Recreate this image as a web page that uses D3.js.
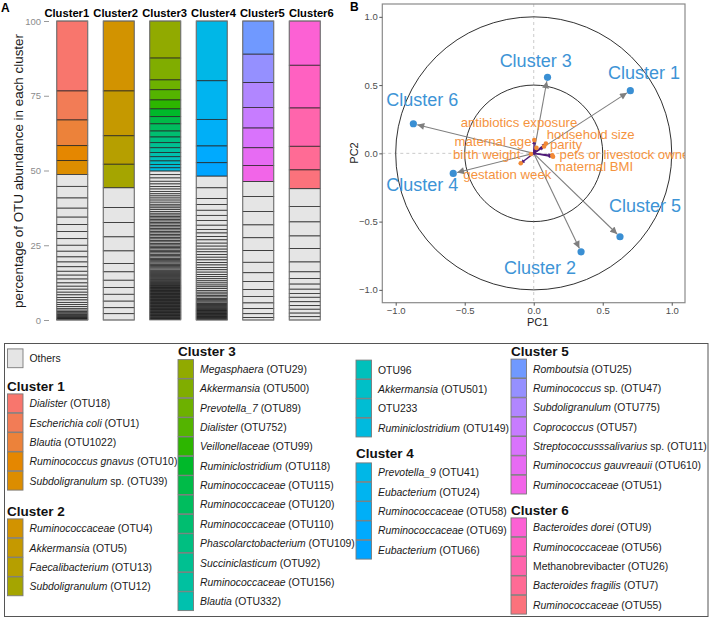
<!DOCTYPE html>
<html><head><meta charset="utf-8">
<script src="https://cdn.jsdelivr.net/npm/d3@7"></script>
<style>body{margin:0;background:#fff}svg{font-family:"Liberation Sans",Arial,Helvetica,sans-serif}</style>
</head><body><svg id="c" width="712" height="620"></svg>
<script>
// ---------------- DATA ----------------
const clusters = ["Cluster1","Cluster2","Cluster3","Cluster4","Cluster5","Cluster6"];
const yTicksA = [0,25,50,75,100];
// coloured OTU shares (top to bottom)
const c1 = [23.4,9.7,8.6,5.0,4.6];
const c2 = [23.4,15.0,9.5,7.9];
const c3 = [12.4,7.3,3.3,3.4,3.0,2.6,2.4,2.4,2.0,1.9,1.7,1.6,1.4,1.4,1.2,1.1,1.1];
const c4 = [20.0,12.9,8.9,5.6,4.5];
const c5 = [11.1,9.5,8.3,6.9,6.6,5.9,5.4];
const c6 = [14.8,14.3,12.8,7.9,6.3];
// "Others" OTU shares (top to bottom)
const o1 = [4.0,3.9,3.4,3.0,2.5,2.3,2.4,2.2,2.0,1.9,1.7,1.6,1.5,1.3,1.3,1.3,1.1,1.0,1.0,0.9,0.9,0.8,0.8,0.7,0.7,0.6,0.6,0.5,0.4,0.4,0.3,0.3,0.3,0.2,0.2,0.2,0.2,0.1,0.1,0.1];
const o2 = [6.6,5.0,4.8,4.7,4.2,2.8,2.8,2.4,2.3,2.3,2.2,2.0,2.1];
const o3 = [1.2,1.1,1.1,0.9,0.9,0.8,0.8,0.8,0.7,0.7,0.7,0.7,0.7,0.6,0.6,0.6,0.6,0.6,0.6,
  0.5,0.5,0.5,0.5,0.5,0.5,0.5,0.5,0.5,0.5,0.5,0.5,0.5,0.5,0.5,0.5,0.5,0.5,0.5,0.5,
  0.45,0.45,0.45,0.45,0.45,0.45,0.45,0.45,0.45,0.45,
  0.4,0.4,0.4,0.4,0.4,0.4,0.4,0.4,0.4,0.4,
  0.35,0.35,0.35,0.35,0.35,0.35,0.35,0.35,
  0.3,0.3,0.3,0.3,0.3,0.3,0.3,
  0.2,0.2,0.2,0.2,0.2,0.2,0.2,0.2,0.2,0.2,0.2,0.2,0.2,0.2,0.2,0.2,0.2,0.2,0.2,0.2,
  0.2,0.2,0.2,0.2,0.2,0.2,0.2,0.2,0.2,0.2,0.2,0.2,0.2,0.2,0.2,0.2,0.2,0.2,0.2,0.2,
  0.2,0.2,0.2,0.2,0.2,0.2,0.2,0.2,0.2,0.2,0.2,0.2,0.2,0.2,0.2,0.2,0.2,0.2];
const o4 = [3.9,3.6,2.0,1.9,1.7,1.7,1.6,1.4,1.2,1.2,1.1,1.1,1.0,1.0,0.9,0.9,0.9,0.9,0.9,0.8,0.8,0.8,0.8,0.8,0.7,0.7,0.7,0.7,0.7,0.6,0.6,0.6,0.6,0.6,
  0.5,0.5,0.5,0.4,0.4,0.4,0.4,0.3,0.3,0.3,0.3,0.3,0.3,
  0.2,0.2,0.2,0.2,0.2,0.2,0.2,0.2,0.2,0.2,0.2,0.2,0.2,0.2,0.2,0.2,0.2,0.2,0.2];
const o5 = [5.0,5.0,4.5,4.3,4.3,3.9,3.5,2.9,2.7,2.3,2.2,1.9,1.7,1.3,0.8];
const o6 = [5.9,5.2,4.7,4.2,4.5,3.3,2.2,1.9,1.7,1.4,1.3,1.5,1.3,1.2,1.3,1.2,1.1];
const colored = [c1,c2,c3,c4,c5,c6];
const others = [o1,o2,o3,o4,o5,o6];

// legend labels (*...* = italic)
const leg1 = ["*Dialister* (OTU18)","*Escherichia coli* (OTU1)","*Blautia* (OTU1022)","*Ruminococcus gnavus* (OTU10)","*Subdoligranulum* sp. (OTU39)"];
const leg2 = ["*Ruminococcaceae* (OTU4)","*Akkermansia* (OTU5)","*Faecalibacterium* (OTU13)","*Subdoligranulum* (OTU12)"];
const leg3 = ["*Megasphaera* (OTU29)","*Akkermansia* (OTU500)","*Prevotella_7* (OTU89)","*Dialister* (OTU752)","*Veillonellaceae* (OTU99)","*Ruminiclostridium* (OTU118)","*Ruminococcaceae* (OTU115)","*Ruminococcaceae* (OTU120)","*Ruminococcaceae* (OTU110)","*Phascolarctobacterium* (OTU109)","*Succiniclasticum* (OTU92)","*Ruminococcaceae* (OTU156)","*Blautia* (OTU332)","OTU96","*Akkermansia* (OTU501)","OTU233","*Ruminiclostridium* (OTU149)"];
const leg4 = ["*Prevotella_9* (OTU41)","*Eubacterium* (OTU24)","*Ruminococcaceae* (OTU58)","*Ruminococcaceae* (OTU69)","*Eubacterium* (OTU66)"];
const leg5 = ["*Romboutsia* (OTU25)","*Ruminococcus* sp. (OTU47)","*Subdoligranulum* (OTU775)","*Coprococcus* (OTU57)","*Streptococcusssalivarius* sp. (OTU11)","*Ruminococcus gauvreauii* (OTU610)","*Ruminococcaceae* (OTU51)"];
const leg6 = ["*Bacteroides dorei* (OTU9)","*Ruminococcaceae* (OTU56)","Methanobrevibacter (OTU26)","*Bacteroides fragilis* (OTU7)","*Ruminococcaceae* (OTU55)"];

// Panel B
const clusterLabels = ["Cluster 1","Cluster 2","Cluster 3","Cluster 4","Cluster 5","Cluster 6"];
const pc1 = [0.70,0.343,0.10,-0.583,0.625,-0.872];
const pc2 = [0.459,-0.721,0.557,-0.147,-0.611,0.217];
const labPc1 = [0.799,0.046,0.014,-0.807,0.807,-0.807];
const labPc2 = [0.586,-0.842,0.678,-0.234,-0.386,0.39];
const envVars = ["antibiotics exposure","household size","maternal age","parity","birth weight","pets or livestock ownership","maternal BMI","gestation week"];
const envPc1 = [0.004,0.088,0.02,0.075,-0.02,0.135,0.14,-0.094];
const envPc2 = [0.097,0.072,0.04,0.05,-0.005,-0.015,-0.025,-0.073];
const envLabPc1 = [-0.107,0.413,-0.295,0.234,-0.341,0.761,0.437,-0.191];
const envLabPc2 = [0.224,0.141,0.085,0.068,-0.012,-0.005,-0.098,-0.152];
const ticksB = [-1,-0.5,0,0.5,1];
const circleRadii = [1,0.5];

// ---------------- PALETTE (hcl hues, polar LUV, c=100 l=65) ----------------
const hues = [15,23,31,39,47, 56,66,76,86,
  96,103.2,110.4,117.6,124.8,132,139.2,146.4,153.6,160.8,168,175.2,182.4,189.6,196.8,204,211.2,
  218,225,232,239,246, 258,267,276,285,294,303,312, 325,336,347,358,369];
function hclLuv(h,c,l){
  const hr=h*Math.PI/180, U=c*Math.cos(hr), V=c*Math.sin(hr);
  const un=0.1978398, vn=0.4683363;
  const Y = l>8 ? Math.pow((l+16)/116,3) : l/903.3;
  const u=U/(13*l)+un, v=V/(13*l)+vn;
  const X=9*Y*u/(4*v), Z=-X/3-5*Y+3*Y/v;
  const lin=[3.240479*X-1.537150*Y-0.498535*Z, -0.969256*X+1.875992*Y+0.041556*Z, 0.055648*X-0.204043*Y+1.057311*Z];
  const g=lin.map(t=>{t=t<=0.0031308?12.92*t:1.055*Math.pow(t,1/2.4)-0.055;return Math.max(0,Math.min(1,t))*255;});
  return d3.rgb(g[0],g[1],g[2]).formatHex();
}
const palette = hues.map(h=>hclLuv(h,100,65));
const othersFill = "#E5E5E5";

const svg = d3.select("#c");
svg.append("rect").attr("width",712).attr("height",620).attr("fill","#fff");

// ---------------- PANEL A ----------------
const xA = d3.scaleBand().domain(clusters).range([49,328]).paddingInner(0.333).paddingOuter(0.1665);
const xLab = d3.scaleBand().domain(clusters).range([42.35,335.75]);
const yA = d3.scaleLinear().domain([0,100]).range([320,21]);

svg.append("text").attr("x",1).attr("y",12).attr("font-weight","bold").attr("font-size",12).text("A");

const gA = svg.append("g");
let ci = 0;
clusters.forEach((cl,i)=>{
  let top = 100;
  const segs = [];
  colored[i].forEach(v=>{segs.push({t:top,v:v,f:palette[ci++]}); top-=v;});
  others[i].forEach(v=>{segs.push({t:top,v:v,f:othersFill}); top-=v;});
  gA.selectAll(null).data(segs).enter().append("rect")
    .attr("x",xA(cl)).attr("width",xA.bandwidth())
    .attr("y",d=>yA(d.t)).attr("height",d=>yA(d.t-d.v)-yA(d.t))
    .attr("fill",d=>d.f).attr("stroke","#262626").attr("stroke-width",0.75);
  gA.append("rect").attr("x",xA(cl)).attr("width",xA.bandwidth()).attr("y",yA(100)).attr("height",yA(0)-yA(100))
    .attr("fill","none").attr("stroke","#8a8a8a").attr("stroke-width",0.8);
  svg.append("text").attr("x",xLab(cl)+xLab.bandwidth()/2).attr("y",17).attr("text-anchor","middle")
    .attr("font-weight","bold").attr("font-size",11.2).text(cl);
});
const axA = svg.append("g").attr("transform","translate(49,0)")
  .call(d3.axisLeft(yA).tickValues(yTicksA).tickSize(5).tickPadding(3));
axA.select(".domain").remove();
axA.selectAll("line").attr("stroke","#999");
axA.selectAll("text").attr("fill","#8c8c8c").attr("font-size",9.5).attr("font-family","Liberation Sans, Arial, sans-serif");
svg.append("text").attr("transform","translate(18,171) rotate(-90)").attr("text-anchor","middle")
  .attr("dominant-baseline","central").attr("font-size",13.4).attr("fill","#1a1a1a")
  .text("percentage of OTU abundance in each cluster");

// ---------------- PANEL B ----------------
const xB = d3.scaleLinear().domain([-1.097,1.096]).range([382.3,685]);
const yB = d3.scaleLinear().domain([-1.094,1.094]).range([302.7,4]);
svg.append("text").attr("x",350).attr("y",11).attr("font-weight","bold").attr("font-size",12).text("B");
svg.append("clipPath").attr("id","clipB").append("rect")
  .attr("x",382.3).attr("y",4).attr("width",302.7).attr("height",298.7);
const defs = svg.append("defs");
defs.append("marker").attr("id","arrG").attr("viewBox","0 0 10 10").attr("refX",10).attr("refY",5)
  .attr("markerWidth",9).attr("markerHeight",7).attr("markerUnits","userSpaceOnUse").attr("orient","auto")
  .append("path").attr("d","M0,0L10,5L0,10z").attr("fill","#7f7f7f");
defs.append("marker").attr("id","arrP").attr("viewBox","0 0 10 10").attr("refX",10).attr("refY",5)
  .attr("markerWidth",5).attr("markerHeight",4).attr("markerUnits","userSpaceOnUse").attr("orient","auto")
  .append("path").attr("d","M0,0L10,5L0,10z").attr("fill","#4f1a78");

const gB = svg.append("g").attr("clip-path","url(#clipB)");
gB.append("line").attr("x1",xB(0)).attr("x2",xB(0)).attr("y1",4).attr("y2",302.7)
  .attr("stroke","#bdbdbd").attr("stroke-dasharray","3,3").attr("stroke-width",0.8);
gB.append("line").attr("y1",yB(0)).attr("y2",yB(0)).attr("x1",382.3).attr("x2",685)
  .attr("stroke","#bdbdbd").attr("stroke-dasharray","3,3").attr("stroke-width",0.8);
circleRadii.forEach(r=>{
  gB.append("ellipse").attr("cx",xB(0)).attr("cy",yB(0)).attr("rx",xB(r)-xB(0)).attr("ry",yB(0)-yB(r))
    .attr("fill","none").attr("stroke","#1a1a1a").attr("stroke-width",0.9);
});
clusterLabels.forEach((c,i)=>{
  const x0=xB(0),y0=yB(0),x1=xB(pc1[i]),y1=yB(pc2[i]);
  const L=Math.hypot(x1-x0,y1-y0), s=(L-4)/L;
  gB.append("line").attr("x1",x0).attr("y1",y0).attr("x2",x0+(x1-x0)*s).attr("y2",y0+(y1-y0)*s)
    .attr("stroke","#7f7f7f").attr("stroke-width",1.1).attr("marker-end","url(#arrG)");
});
envVars.forEach((v,i)=>{
  gB.append("line").attr("x1",xB(0)).attr("y1",yB(0)).attr("x2",xB(envPc1[i])).attr("y2",yB(envPc2[i]))
    .attr("stroke","#4f1a78").attr("stroke-width",1.4).attr("marker-end","url(#arrP)");
});
gB.selectAll(null).data(envVars).enter().append("circle")
  .attr("cx",(d,i)=>xB(envPc1[i])).attr("cy",(d,i)=>yB(envPc2[i])).attr("r",2.3).attr("fill","#f28a36");
gB.selectAll(null).data(envVars).enter().append("text")
  .attr("x",(d,i)=>xB(envLabPc1[i])).attr("y",(d,i)=>yB(envLabPc2[i])).attr("text-anchor","middle")
  .attr("dominant-baseline","central").attr("font-size",13.2).attr("fill","#f5933e").text(d=>d);
gB.selectAll(null).data(clusterLabels).enter().append("circle")
  .attr("cx",(d,i)=>xB(pc1[i])).attr("cy",(d,i)=>yB(pc2[i])).attr("r",3.6).attr("fill","#3a8fd3");
gB.selectAll(null).data(clusterLabels).enter().append("text")
  .attr("x",(d,i)=>xB(labPc1[i])).attr("y",(d,i)=>yB(labPc2[i])).attr("text-anchor","middle")
  .attr("dominant-baseline","central").attr("font-size",18).attr("fill","#3d94d6").text(d=>d);
svg.append("rect").attr("x",382.3).attr("y",4).attr("width",302.7).attr("height",298.7)
  .attr("fill","none").attr("stroke","#8a8a8a").attr("stroke-width",1.2);
const fmt = d=>(d<0?"\u2212":"")+Math.abs(d).toFixed(1);
const axBx = svg.append("g").attr("transform","translate(0,302.7)").call(d3.axisBottom(xB).tickValues(ticksB).tickSize(3).tickPadding(1.5).tickFormat(fmt));
const axBy = svg.append("g").attr("transform","translate(382.3,0)").call(d3.axisLeft(yB).tickValues(ticksB).tickSize(3).tickPadding(1.5).tickFormat(fmt));
[axBx,axBy].forEach(a=>{a.select(".domain").remove();a.selectAll("line").attr("stroke","#555");
  a.selectAll("text").attr("fill","#4d4d4d").attr("font-size",9.5).attr("font-family","Liberation Sans, Arial, sans-serif");});
svg.append("text").attr("x",537.7).attr("y",322).attr("text-anchor","middle").attr("dominant-baseline","central")
  .attr("font-size",11).attr("fill","#1a1a1a").text("PC1");
svg.append("text").attr("transform","translate(354,153) rotate(-90)").attr("text-anchor","middle")
  .attr("dominant-baseline","central").attr("font-size",11).attr("fill","#1a1a1a").text("PC2");

// ---------------- LEGEND ----------------
svg.append("rect").attr("x",4.5).attr("y",343.5).attr("width",703.5).attr("height",273)
  .attr("fill","none").attr("stroke","#555").attr("stroke-width",1);
const gL = svg.append("g");
function item(keyX, y, fill, label){
  gL.append("rect").attr("x",keyX).attr("y",y-9.4).attr("width",15.5).attr("height",18.8)
    .attr("fill",fill).attr("stroke","#7a7a7a").attr("stroke-width",0.9);
  const t = gL.append("text").attr("x",keyX+22).attr("y",y).attr("dominant-baseline","central")
    .attr("font-size",10.4).attr("fill","#1a1a1a");
  label.split("*").forEach((part,k)=>{ if(part.length) t.append("tspan").attr("font-style",k%2?"italic":"normal").text(part); });
}
function heading(x,y,txt){
  gL.append("text").attr("x",x).attr("y",y).attr("dominant-baseline","central")
    .attr("font-weight","bold").attr("font-size",13.5).attr("fill","#111").text(txt);
}
const step = 19.35;
const offs = [0]; [c1,c2,c3,c4,c5].forEach((c,i)=>offs.push(offs[i]+c.length));
item(7.5,358.3,othersFill,"Others");
heading(7,386,"Cluster 1"); leg1.forEach((l,i)=>item(7.5,403.3+i*step,palette[offs[0]+i],l));
heading(7,511,"Cluster 2"); leg2.forEach((l,i)=>item(7.5,528.3+i*step,palette[offs[1]+i],l));
heading(178,351.7,"Cluster 3");
leg3.forEach((l,i)=>{ if(i<13) item(178,369+i*step,palette[offs[2]+i],l); else item(356,369.5+(i-13)*step,palette[offs[2]+i],l); });
heading(356,453.3,"Cluster 4"); leg4.forEach((l,i)=>item(356,472.3+i*step,palette[offs[3]+i],l));
heading(511,351.7,"Cluster 5"); leg5.forEach((l,i)=>item(511,368.5+i*step,palette[offs[4]+i],l));
heading(511,510,"Cluster 6"); leg6.forEach((l,i)=>item(511,527.3+i*step,palette[offs[5]+i],l));
</script></body></html>
